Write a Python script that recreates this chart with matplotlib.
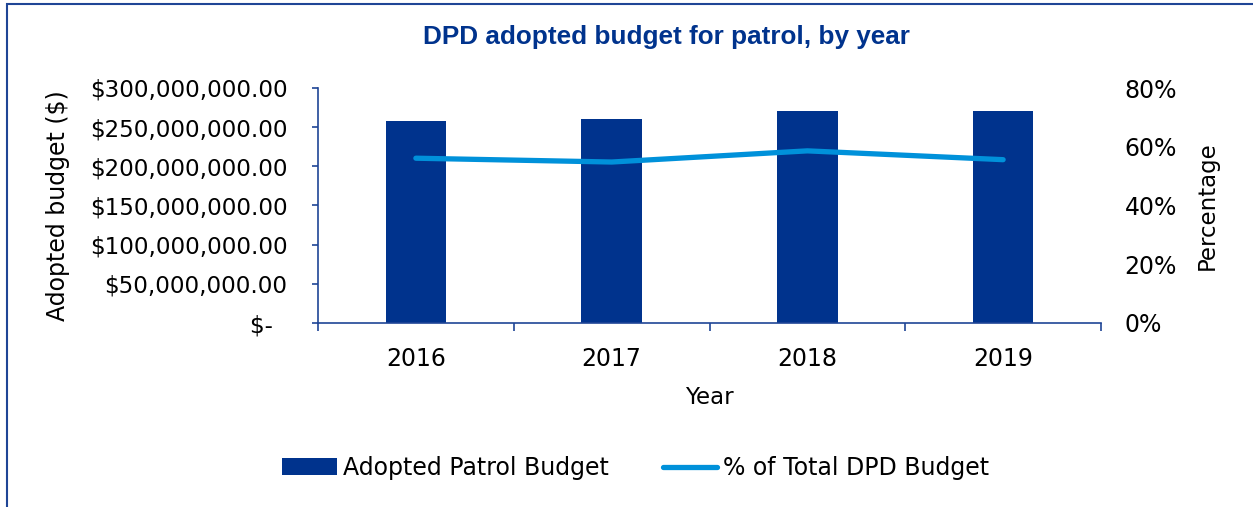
import matplotlib.pyplot as plt
from matplotlib.patches import Rectangle
from matplotlib.ticker import FuncFormatter, PercentFormatter

plt.rcParams['font.family'] = ['DejaVu Sans']

years = ['2016', '2017', '2018', '2019']
patrol_budget = [257500000, 260000000, 270500000, 270500000]
pct_of_total = [56.1, 54.8, 58.6, 55.6]

dark_blue = '#00338D'
light_blue = '#0091DA'
axis_col = '#1F4596'


def money(v, pos):
    # Excel accounting style: zero shows as a dash
    if v == 0:
        return '$-  '
    return '${:,.2f}'.format(v)


fig = plt.figure(figsize=(12.53, 5.07), dpi=100)
ax = fig.add_axes([318 / 1253, 1 - 323 / 507, (1101 - 318) / 1253, (323 - 88) / 507])
x = list(range(len(years)))

bars = ax.bar(x, patrol_budget, width=0.31, color=dark_blue, label='Adopted Patrol Budget', zorder=2)
ax.set_xlim(-0.5, 3.5)
ax.set_ylim(0, 300000000)
ax.set_yticks(range(0, 300000001, 50000000))
ax.yaxis.set_major_formatter(FuncFormatter(money))
ax.set_xticks(x)
ax.set_xticklabels(years)
ax.set_xticks([-0.5, 0.5, 1.5, 2.5, 3.5], minor=True)
ax.tick_params(axis='x', which='major', length=0, pad=17, labelsize=17)
ax.tick_params(axis='x', which='minor', length=6, color=axis_col, width=1.2)
ax.tick_params(axis='y', length=4, color=axis_col, width=1.2, labelsize=16.6, pad=18)
for s in ['top', 'right']:
    ax.spines[s].set_visible(False)
for s in ['left', 'bottom']:
    ax.spines[s].set_color(axis_col)
    ax.spines[s].set_linewidth(1.2)
ax.set_xlabel('Year', fontsize=16.5)
ax.xaxis.set_label_coords(0.5, -0.27)
ax.set_ylabel('Adopted budget ($)', fontsize=17)
ax.yaxis.set_label_coords(-0.317, 0.5)

ax2 = ax.twinx()
line, = ax2.plot(x, pct_of_total, color=light_blue, lw=3.8, solid_capstyle='round',
                 label='% of Total DPD Budget', zorder=3)
ax2.set_ylim(0, 80)
ax2.set_yticks(range(0, 81, 20))
ax2.yaxis.set_major_formatter(PercentFormatter(decimals=0))
ax2.tick_params(axis='y', length=0, labelsize=17, pad=17)
for s in ['top', 'right', 'left', 'bottom']:
    ax2.spines[s].set_visible(False)
ax2.set_ylabel('Percentage', fontsize=16.5)
ax2.yaxis.set_label_coords(1.121, 0.5)

fig.text(666 / 1253, 1 - 37 / 507, 'DPD adopted budget for patrol, by year',
         ha='center', va='center', fontsize=18.8, fontweight='bold', color=dark_blue,
         family='Liberation Sans')

fig.legend([bars, line], ['Adopted Patrol Budget', '% of Total DPD Budget'],
           loc='center', bbox_to_anchor=(636 / 1253, 1 - 468 / 507), ncol=2,
           frameon=False, fontsize=17, handlelength=2.3, handletextpad=0.26,
           columnspacing=2.3)

fig.patches.append(Rectangle((7 / 1253, -0.1), 1.2, 1 - 4 / 507 + 0.1,
                             transform=fig.transFigure, fill=False,
                             edgecolor=axis_col, lw=1.5))

fig.savefig('out.png', dpi=100)
